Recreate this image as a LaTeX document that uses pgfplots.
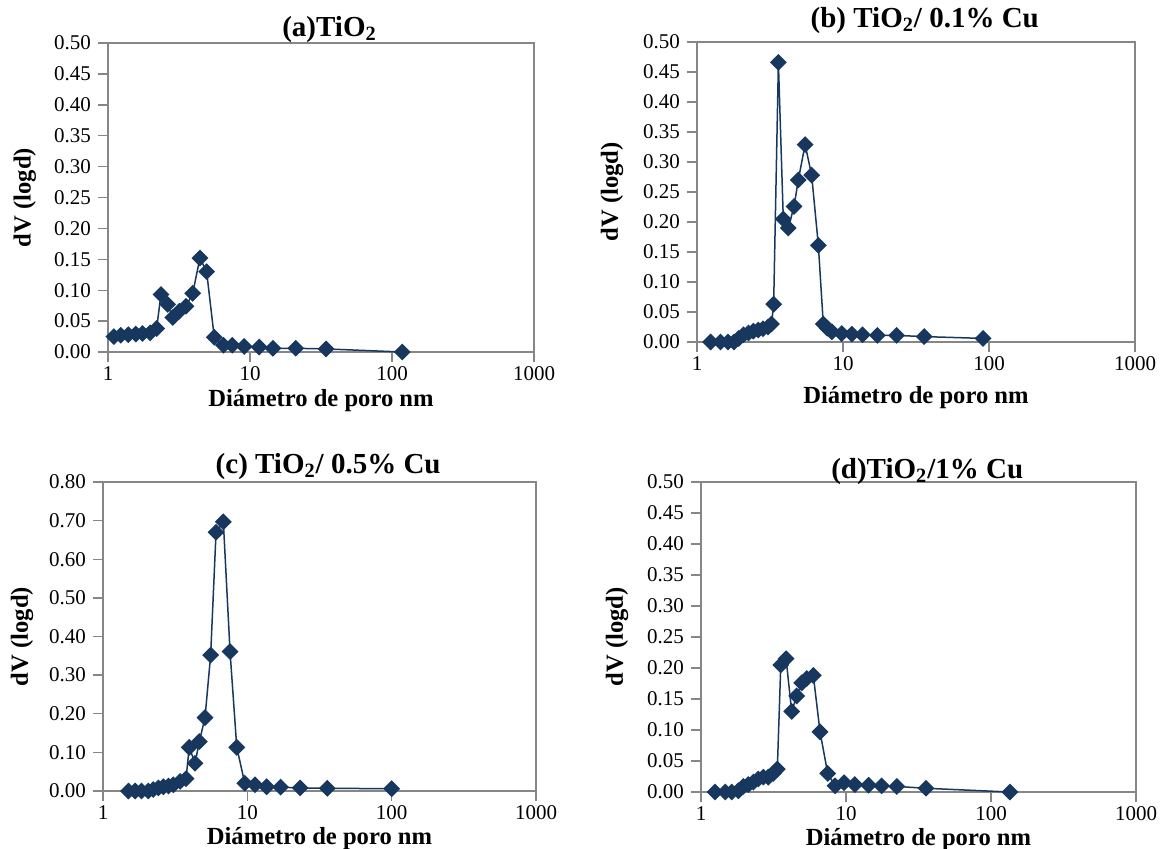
\documentclass[border=0pt]{standalone}
\usepackage{fontspec}
\setmainfont{Liberation Serif}
\usepackage{pgfplots}
\pgfplotsset{compat=1.18}
\definecolor{navy}{RGB}{23,55,94}
\definecolor{axgray}{RGB}{134,134,134}

\tikzset{pore/.style={navy, line width=0.75pt, mark=square*, mark size=2.6pt,
    mark options={rotate=45, fill=navy, draw=navy, solid}}}

\pgfplotsset{
  every axis/.append style={
    scale only axis,
    xmin=1, xmax=1000,
    xtick={1,10,100,1000}, xticklabels={1,10,100,1000},
    xminorticks=false,
    ymin=0, clip=false,
    axis line style={axgray, line width=0.7pt},
    tick style={axgray, line width=0.7pt},
    major tick length=5pt,
    tick align=outside, xtick pos=bottom, ytick pos=left,
    ticklabel style={font=\fontsize{10.5}{12}\selectfont},
    xticklabel style={inner sep=1pt, yshift=-1pt},
    yticklabel style={/pgf/number format/fixed, /pgf/number format/fixed zerofill,
      /pgf/number format/precision=2, /pgf/number format/assume math mode=true},
    title style={font=\fontsize{14.5}{16}\selectfont\bfseries, anchor=base},
    label style={font=\fontsize{12.3}{14}\selectfont\bfseries, inner sep=1pt},
    xlabel={Diámetro de poro nm},
    ylabel={dV (logd)},
  },
}

\begin{document}
\begin{tikzpicture}
\path[use as bounding box] (0,0) rectangle (585.5pt,424pt);

% (a)
\begin{semilogxaxis}[anchor=south west, at={(54pt,248pt)}, width=213pt, height=154.5pt,
  ymax=0.5, ytick={0,0.05,0.1,0.15,0.2,0.25,0.3,0.35,0.4,0.45,0.5},
  title={(a)TiO\textsubscript{2}},
  title style={at={(axis description cs:0.52,1)}, yshift=-2.5pt},
  xlabel style={at={(axis description cs:0.5,0)}, anchor=base, yshift=-27pt},
  ylabel style={at={(axis description cs:-0.195,0.5)}, anchor=center}]
\addplot[pore] coordinates {
(1.10,0.025) (1.23,0.027) (1.39,0.028) (1.57,0.029) (1.75,0.030) (1.98,0.031)
(2.20,0.038) (2.36,0.093) (2.63,0.077) (2.86,0.056) (3.18,0.066) (3.54,0.074)
(3.95,0.095) (4.44,0.152) (4.95,0.130) (5.60,0.024) (6.50,0.011) (7.50,0.011)
(9.10,0.009) (11.6,0.008) (14.5,0.006) (21.0,0.006) (34.3,0.005) (118,0.000)
};
\end{semilogxaxis}

% (b)
\begin{semilogxaxis}[anchor=south west, at={(348.5pt,253pt)}, width=219pt, height=150pt,
  ymax=0.5, ytick={0,0.05,0.1,0.15,0.2,0.25,0.3,0.35,0.4,0.45,0.5},
  title={(b) TiO\textsubscript{2}/ 0.1\% Cu},
  title style={at={(axis description cs:0.52,1)}, yshift=1.5pt},
  xlabel style={at={(axis description cs:0.5,0)}, anchor=base, yshift=-30.5pt},
  ylabel style={at={(axis description cs:-0.194,0.5)}, anchor=center}]
\addplot[pore] coordinates {
(1.24,0.000) (1.45,0.000) (1.63,0.000) (1.79,0.000) (1.93,0.006) (2.08,0.012)
(2.25,0.015) (2.43,0.018) (2.63,0.020) (2.83,0.022) (3.06,0.025) (3.24,0.030)
(3.35,0.063) (3.61,0.466) (3.90,0.205) (4.22,0.190) (4.62,0.226) (4.94,0.270)
(5.50,0.329) (6.10,0.278) (6.78,0.161) (7.33,0.030) (7.81,0.023) (8.40,0.017)
(9.80,0.014) (11.5,0.013) (13.6,0.012) (17.2,0.011) (23.3,0.011) (36.0,0.009)
(91,0.006)
};
\end{semilogxaxis}

% (c)
\begin{semilogxaxis}[anchor=south west, at={(51.5pt,28.5pt)}, width=216.5pt, height=154.5pt,
  ymax=0.8, ytick={0,0.1,0.2,0.3,0.4,0.5,0.6,0.7,0.8},
  title={(c) TiO\textsubscript{2}/ 0.5\% Cu},
  title style={at={(axis description cs:0.52,1)}, yshift=-1.5pt},
  xlabel style={at={(axis description cs:0.5,0)}, anchor=base, yshift=-26.5pt},
  ylabel style={at={(axis description cs:-0.187,0.5)}, anchor=center}]
\addplot[pore] coordinates {
(1.50,0.000) (1.67,0.000) (1.85,0.000) (2.06,0.000) (2.23,0.004) (2.42,0.008)
(2.62,0.011) (2.84,0.013) (3.07,0.016) (3.42,0.025) (3.76,0.032) (3.96,0.113)
(4.34,0.072) (4.65,0.128) (5.09,0.190) (5.57,0.352) (6.07,0.670) (6.82,0.697)
(7.59,0.361) (8.45,0.113) (9.6,0.020) (11.3,0.016) (13.6,0.011) (17.0,0.010)
(23.2,0.008) (35.8,0.007) (100,0.006)
};
\end{semilogxaxis}

% (d)
\begin{semilogxaxis}[anchor=south west, at={(350.5pt,28pt)}, width=217.5pt, height=155pt,
  ymax=0.5, ytick={0,0.05,0.1,0.15,0.2,0.25,0.3,0.35,0.4,0.45,0.5},
  title={(d)TiO\textsubscript{2}/1\% Cu},
  title style={at={(axis description cs:0.52,1)}, yshift=-4pt},
  xlabel style={at={(axis description cs:0.5,0)}, anchor=base, yshift=-26.5pt},
  ylabel style={at={(axis description cs:-0.193,0.5)}, anchor=center}]
\addplot[pore] coordinates {
(1.25,0.000) (1.47,0.000) (1.63,0.000) (1.81,0.002) (1.96,0.009) (2.12,0.012)
(2.30,0.016) (2.48,0.021) (2.69,0.024) (2.91,0.024) (3.15,0.030) (3.36,0.037)
(3.55,0.205) (3.86,0.215) (4.22,0.130) (4.57,0.155) (4.95,0.176) (5.36,0.183)
(5.95,0.188) (6.62,0.097) (7.48,0.030) (8.40,0.010) (9.7,0.015) (11.5,0.012)
(14.3,0.011) (17.6,0.010) (22.4,0.009) (35.6,0.006) (135,0.000)
};
\end{semilogxaxis}
\end{tikzpicture}
\end{document}
